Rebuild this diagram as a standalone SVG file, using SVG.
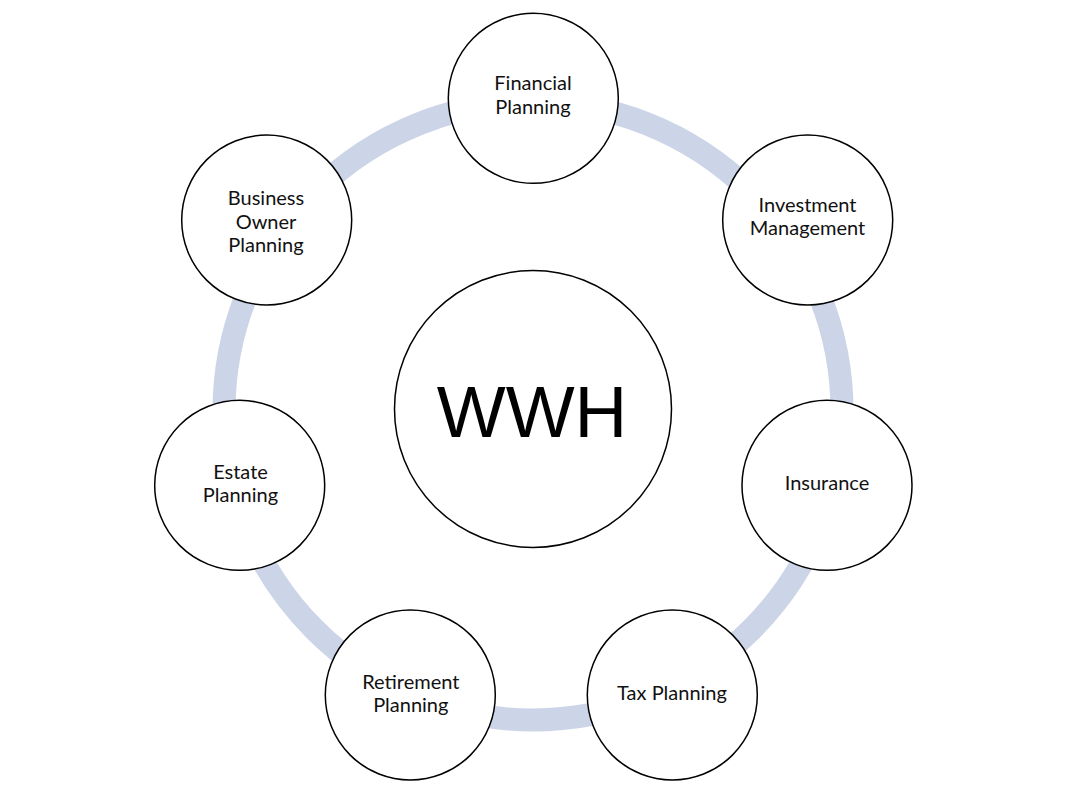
<svg xmlns="http://www.w3.org/2000/svg" width="1067" height="800" viewBox="0 0 1067 800">
<style>
.node{fill:#fff;stroke:#000;stroke-width:1.5}
.lbl{font-family:Lato,"Liberation Sans",sans-serif;font-size:20px;fill:#111;text-anchor:middle}
.big{font-family:"Liberation Sans",Arial,sans-serif;font-size:73px;fill:#000;text-anchor:middle}
</style>
<rect width="1067" height="800" fill="#fff"/>
<g id="connectors">
<circle cx="533" cy="411" r="309" fill="none" stroke="#ccd5e8" stroke-width="23"/>
</g>
<g id="center">
<circle class="node" cx="533" cy="409" r="138.5"/>
<text class="big" x="532" y="437">WWH</text>
</g>
<g id="financial">
<circle class="node" cx="533.3" cy="98.3" r="85"/>
<text class="lbl" x="533" y="90">Financial</text>
<text class="lbl" x="533" y="113.5">Planning</text>
</g>
<g id="investment">
<circle class="node" cx="807.7" cy="220" r="85"/>
<text class="lbl" x="807.5" y="211.5">Investment</text>
<text class="lbl" x="807.5" y="235">Management</text>
</g>
<g id="insurance">
<circle class="node" cx="827" cy="485.3" r="85"/>
<text class="lbl" x="827" y="490">Insurance</text>
</g>
<g id="tax">
<circle class="node" cx="672.3" cy="695" r="85"/>
<text class="lbl" x="672" y="700">Tax Planning</text>
</g>
<g id="retirement">
<circle class="node" cx="410.3" cy="695" r="85"/>
<text class="lbl" x="410.8" y="689">Retirement</text>
<text class="lbl" x="410.8" y="712">Planning</text>
</g>
<g id="estate">
<circle class="node" cx="239.7" cy="485.3" r="85"/>
<text class="lbl" x="240.5" y="479">Estate</text>
<text class="lbl" x="240.5" y="502">Planning</text>
</g>
<g id="business">
<circle class="node" cx="266.7" cy="220" r="85"/>
<text class="lbl" x="266" y="205">Business</text>
<text class="lbl" x="266" y="228.5">Owner</text>
<text class="lbl" x="266" y="252">Planning</text>
</g>
</svg>
